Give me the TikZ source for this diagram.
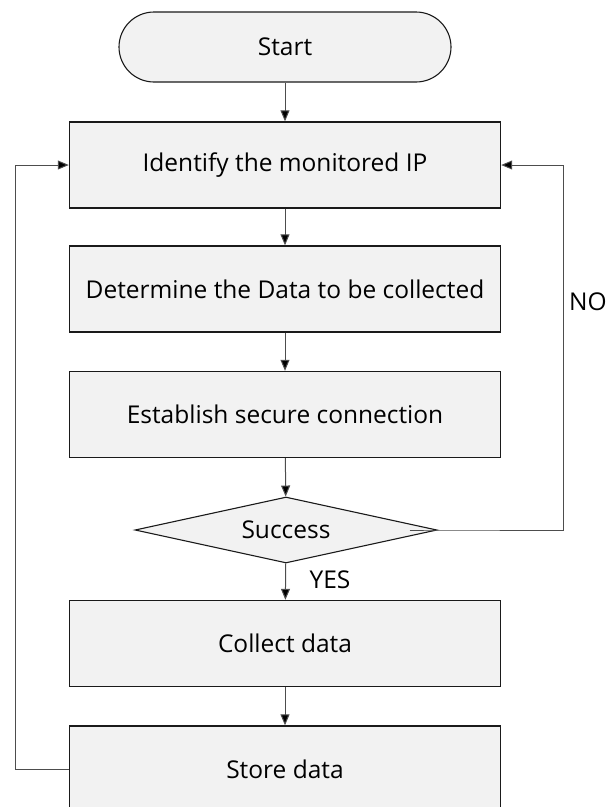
\documentclass[tikz,border=0pt]{standalone}
\usepackage{fontspec}
\setmainfont{Open Sans}
\usetikzlibrary{shapes.geometric,arrows.meta}
\definecolor{boxfill}{HTML}{F2F2F2}
\definecolor{edge}{HTML}{1A1A1A}
\definecolor{wire}{HTML}{4D4D4D}
\tikzset{
  txt/.style={font=\fontsize{24.5}{29}\selectfont, text=black},
  proc/.style={txt, draw=edge, line width=1.4pt, fill=boxfill,
    minimum width=431pt, minimum height=86pt, inner sep=0pt},
  term/.style={txt, draw=edge, line width=1.1pt, fill=boxfill, rounded corners=35pt,
    minimum width=332pt, minimum height=70pt, inner sep=0pt},
  decide/.style={txt, draw=edge, line width=1.1pt, fill=boxfill, diamond, aspect=4.5,
    minimum width=302pt, minimum height=66pt, inner sep=0pt},
  flow/.style={draw=wire, line width=1pt, -{Triangle[length=11pt,width=9pt,fill=black]}},
  lbl/.style={txt}
}
\begin{document}
\begin{tikzpicture}[x=1pt,y=-1pt]
\useasboundingbox (0,0) rectangle (614,807);
% process steps
\node[term]   (start)   at (285,47)    {Start};
\node[proc]   (ident)   at (285,165)   {Identify the monitored IP};
\node[proc]   (determ)  at (285,289)   {Determine the Data to be collected};
\node[proc]   (estab)   at (285,414.5) {Establish secure connection};
\node[decide] (succ)    at (286,530)   {Success};
\node[proc]   (collect) at (285,643.5) {Collect data};
\node[proc]   (store)   at (285,769)   {Store data};
% main flow
\draw[flow] (start) -- (ident);
\draw[flow] (ident) -- (determ);
\draw[flow] (determ) -- (estab);
\draw[flow] (estab) -- (succ);
\draw[flow] (succ) -- (collect);
\draw[flow] (collect) -- (store);
% YES / NO branches
\node[lbl] (yes) at (330,580) {YES};
\coordinate (noleft) at ([xshift=-28pt]succ.east);
\coordinate (rtop) at (563,165);
\draw[flow] (noleft) -- (succ.east) -| (rtop) -- (ident.east);
\node[lbl] (no) at (588,302) {NO};
% loop back from storage
\coordinate (ltop) at (15,165);
\draw[flow] (store.west) -| (ltop) -- (ident.west);
\end{tikzpicture}
\end{document}
